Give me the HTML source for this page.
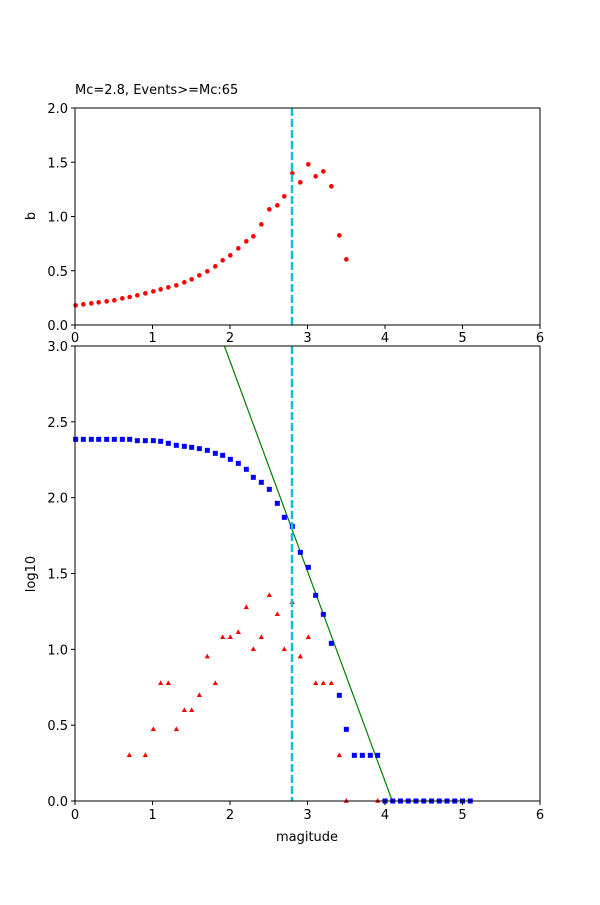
<!DOCTYPE html>
<html><head><meta charset="utf-8"><style>
body{margin:0;background:#fff}
svg text{font-family:"DejaVu Sans","Liberation Sans",sans-serif;font-size:13px;fill:#000}
</style></head><body>
<svg id="s" width="600" height="900" xmlns="http://www.w3.org/2000/svg">
<rect width="600" height="900" fill="#fff"/>
<g id="g"></g>
</svg>
<script>
(function(){
const ns="http://www.w3.org/2000/svg",g=document.getElementById('g');
function el(t,a,txt){const e=document.createElementNS(ns,t);for(const k in a)e.setAttribute(k,a[k]);if(txt!=null)e.textContent=txt;g.appendChild(e);return e;}
const topPts=[[47,466],[70,463],[94,460],[116,457],[140,454],[163,451],[187,445],[209,441],[232,436],[256,430],[280,424],[302,418],[325,412],[349,406],[373,397],[395,388],[418,376],[442,364],[466,349],[488,331],[511,316],[535,295],[559,274],[580,259],[604,223],[628,178],[652,166],[673,139],[697,70],[721,97],[745,43],[767,79],[790,64],[814,109],[838,256],[859,328]];
topPts.forEach(p=>el('circle',{cx:60+p[0]/3,cy:150+p[1]/3,r:2.3,fill:'#f00'}));
el('line',{x1:292,y1:108,x2:292,y2:325,stroke:'#17becf','stroke-width':2.5,'stroke-dasharray':'8,3'});
el('line',{x1:224.4,y1:346,x2:392.3,y2:801,stroke:'green','stroke-width':1.2});
const sq=[[47,58],[70,58],[94,58],[116,58],[140,58],[163,58],[187,58],[209,58],[232,62],[256,62],[280,62],[302,64],[325,70],[349,76],[373,79],[395,82],[418,86],[442,91],[466,100],[488,106],[511,118],[535,130],[559,148],[580,172],[604,187],[628,208],[652,250],[673,292],[697,319],[721,397],[745,442],[767,526],[790,583],[814,670],[838,826],[859,928],[883,1006],[907,1006],[931,1006],[953,1006]];
for(let i=0;i<12;i++)sq.push([(385+i*7.75-60)*3,1143]);
sq.forEach(p=>{const x=60+p[0]/3,y=420+p[1]/3;el('rect',{x:x-2.5,y:y-2.5,width:5,height:5,fill:'#00f'});});
const tr=[[208,1006],[256,1006],[280,928],[302,790],[325,790],[349,928],[373,871],[395,871],[418,826],[442,710],[466,790],[488,652],[511,652],[535,637],[559,562],[580,688],[604,652],[628,526],[652,583],[673,688],[697,547],[721,710],[745,652],[767,790],[790,790],[814,790],[838,1006],[859,1143],[953,1143]];
tr.forEach(p=>{const x=60+p[0]/3,y=420+p[1]/3;el('polygon',{points:`${x},${y-3} ${x-2.6},${y+1.7} ${x+2.6},${y+1.7}`,fill:'#f00'});});
el('line',{x1:292,y1:346,x2:292,y2:801,stroke:'#17becf','stroke-width':2.5,'stroke-dasharray':'8,3'});
el('rect',{x:75,y:108,width:465,height:217,fill:'none',stroke:'#000','stroke-width':1});
el('rect',{x:75,y:346,width:465,height:455,fill:'none',stroke:'#000','stroke-width':1});
for(let i=0;i<=6;i++){const x=75+i*77.5;
 el('line',{x1:x,y1:325,x2:x,y2:329,stroke:'#000'});el('text',{x:x,y:342,'text-anchor':'middle'},i);
 el('line',{x1:x,y1:801,x2:x,y2:805,stroke:'#000'});el('text',{x:x,y:819,'text-anchor':'middle'},i);}
for(let i=0;i<=4;i++){const y=325-i*54.25;el('line',{x1:71,y1:y,x2:75,y2:y,stroke:'#000'});el('text',{x:68,y:y+5,'text-anchor':'end'},(i*0.5).toFixed(1));}
for(let i=0;i<=6;i++){const y=801-i*75.83;el('line',{x1:71,y1:y,x2:75,y2:y,stroke:'#000'});el('text',{x:68,y:y+5,'text-anchor':'end'},(i*0.5).toFixed(1));}
el('text',{x:75,y:94},'Mc=2.8, Events>=Mc:65');
el('text',{x:307,y:841,'text-anchor':'middle'},'magitude');
el('text',{x:35,y:216,'text-anchor':'middle',transform:'rotate(-90 35 216)'},'b');
el('text',{x:35,y:574,'text-anchor':'middle',transform:'rotate(-90 35 574)'},'log10');
})();
</script>
</body></html>
